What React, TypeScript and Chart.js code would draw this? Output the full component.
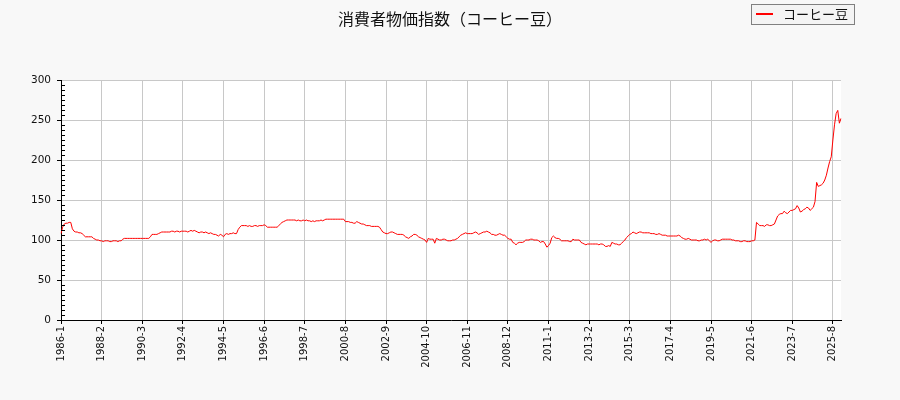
import { useEffect, useRef } from 'react';
import { Chart, registerables } from 'chart.js';

Chart.register(...registerables);

const chartTitle = '消費者物価指数（コーヒー豆）';
const seriesName = 'コーヒー豆';
const firstYear = 1986;
const lastYear = 2026;
const lastMonth = 1;
const labelEvery = 25;
const yMax = 300;
const yStep = 50;

// monthly index, 1986-1 .. 2026-1 (one row per year)
const coffeeBeans = [
    108, 116, 120, 121, 121, 122, 122, 114, 111, 110, 110, 109,
    109, 108, 106, 104, 104, 104, 104, 104, 102, 101, 100, 100,
    99, 99, 98, 99, 99, 99, 98, 98, 99, 99, 99, 98,
    99, 99, 101, 102, 102, 102, 102, 102, 102, 102, 102, 102,
    102, 102, 102, 102, 102, 102, 102, 104, 107, 107, 107, 107,
    108, 109, 110, 110, 110, 110, 110, 110, 111, 111, 110, 111,
    111, 110, 111, 111, 111, 111, 110, 111, 112, 111, 112, 111,
    110, 109, 110, 110, 109, 110, 109, 108, 109, 108, 107, 107,
    106, 105, 107, 106, 104, 107, 108, 107, 108, 108, 109, 108,
    108, 113, 116, 118, 118, 118, 118, 117, 118, 117, 117, 118,
    118, 117, 118, 118, 118, 119, 118, 116, 116, 116, 116, 116,
    116, 116, 118, 120, 122, 123, 124, 125, 125, 125, 125, 125,
    125, 124, 125, 124, 124, 125, 124, 125, 124, 124, 123, 124,
    123, 124, 124, 124, 125, 124, 125, 126, 126, 126, 126, 126,
    126, 126, 126, 126, 126, 126, 126, 123, 123, 123, 122, 122,
    121, 121, 123, 122, 121, 120, 120, 119, 118, 118, 118, 117,
    117, 117, 117, 117, 116, 113, 110, 109, 108, 108, 109, 110,
    110, 109, 108, 107, 107, 107, 107, 106, 104, 103, 102, 104,
    105, 107, 107, 106, 104, 103, 102, 101, 100, 97, 102, 101,
    101, 101, 96, 102, 101, 100, 100, 101, 101, 100, 99, 99,
    99, 100, 100, 101, 102, 104, 106, 107, 108, 109, 108, 108,
    108, 108, 109, 110, 109, 107, 108, 109, 110, 110, 111, 110,
    109, 107, 107, 106, 106, 107, 108, 107, 106, 106, 104, 102,
    101, 101, 97, 96, 94, 96, 97, 97, 97, 98, 100, 100,
    100, 101, 101, 100, 100, 100, 99, 97, 98, 98, 95, 91,
    93, 96, 103, 105, 103, 102, 102, 101, 99, 99, 99, 99,
    99, 98, 98, 101, 100, 100, 100, 100, 97, 96, 95, 94,
    95, 95, 95, 95, 95, 95, 95, 94, 95, 95, 94, 92,
    92, 93, 92, 97, 96, 95, 95, 94, 94, 96, 98, 100,
    103, 105, 107, 108, 110, 109, 108, 109, 110, 110, 109, 109,
    109, 109, 109, 108, 108, 108, 107, 107, 108, 107, 106, 106,
    106, 105, 105, 105, 105, 105, 105, 105, 106, 105, 103, 102,
    101, 101, 102, 101, 100, 100, 100, 100, 99, 99, 100, 100,
    101, 100, 101, 99, 97, 99, 100, 100, 99, 99, 100, 101,
    101, 101, 101, 101, 101, 100, 100, 99, 99, 99, 98, 98,
    99, 99, 98, 98, 98, 99, 99, 100, 122, 120, 118, 118,
    118, 117, 119, 119, 118, 118, 119, 120, 125, 130, 132, 133,
    133, 136, 134, 133, 135, 137, 137, 138, 139, 143, 140, 135,
    136, 138, 139, 141, 140, 137, 139, 141, 148, 172, 167, 168,
    169, 171, 175, 181, 190, 198, 204, 225, 244, 258, 262, 246,
    252,
];

const months: string[] = [];
for (let y = firstYear; y <= lastYear; y++) {
    for (let m = 1; m <= 12; m++) {
        if (y === lastYear && m > lastMonth) break;
        months.push(`${y}-${m}`);
    }
}

const FONT = "'DejaVu Sans', 'Noto Sans CJK JP', sans-serif";
const CJK_FONT = "'Noto Sans CJK JP', 'DejaVu Sans', sans-serif";

// background, title, legend box and the small inner ticks on the y axis
const decorations = {
    id: 'decorations',
    beforeDraw(chart: Chart) {
        const { ctx, chartArea, width, height } = chart;
        ctx.save();
        ctx.fillStyle = '#f8f8f8';
        ctx.fillRect(0, 0, width, height);
        ctx.fillStyle = '#ffffff';
        ctx.fillRect(chartArea.left, chartArea.top, chartArea.right - chartArea.left, chartArea.bottom - chartArea.top);
        ctx.restore();
    },
    afterDraw(chart: Chart) {
        const { ctx, chartArea } = chart;
        const yScale = chart.scales.y;
        ctx.save();

        // minor ticks
        ctx.strokeStyle = '#000';
        ctx.lineWidth = 1;
        const minor = yStep / 8;
        for (let v = minor; v < yMax; v += minor) {
            if (Math.abs(v % yStep) < 0.001) continue;
            const py = Math.round(yScale.getPixelForValue(v)) + 0.5;
            ctx.beginPath();
            ctx.moveTo(chartArea.left, py);
            ctx.lineTo(chartArea.left + 4, py);
            ctx.stroke();
        }

        // title
        ctx.fillStyle = '#111';
        ctx.font = `16px ${CJK_FONT}`;
        ctx.textAlign = 'center';
        ctx.textBaseline = 'middle';
        ctx.fillText(chartTitle, 450, 19);

        // legend
        ctx.fillStyle = '#f4f4f4';
        ctx.fillRect(751.5, 4.5, 103, 20);
        ctx.strokeStyle = '#808080';
        ctx.strokeRect(751.5, 4.5, 103, 20);
        ctx.strokeStyle = '#ff0000';
        ctx.lineWidth = 2;
        ctx.beginPath();
        ctx.moveTo(756, 14);
        ctx.lineTo(773, 14);
        ctx.stroke();
        ctx.fillStyle = '#111';
        ctx.font = `13px ${CJK_FONT}`;
        ctx.textAlign = 'left';
        ctx.fillText(seriesName, 783, 14.5);

        ctx.restore();
    },
};

function CoffeeChart() {
    const chartRef = useRef<HTMLCanvasElement | null>(null);
    const chartInstance = useRef<Chart | null>(null);

    useEffect(() => {
        const ctx = chartRef.current?.getContext('2d');
        if (!ctx) return;
        if (chartInstance.current) chartInstance.current.destroy();

        chartInstance.current = new Chart(ctx, {
            type: 'line',
            data: {
                labels: months,
                datasets: [
                    {
                        label: seriesName,
                        data: coffeeBeans,
                        borderColor: '#ff0000',
                        borderWidth: 1,
                        pointRadius: 0,
                        tension: 0,
                        fill: false,
                    },
                ],
            },
            options: {
                responsive: false,
                animation: false,
                layout: { padding: { top: 80, right: 59, left: 0, bottom: 0 } },
                plugins: {
                    legend: { display: false },
                    title: { display: false },
                    tooltip: { enabled: false },
                },
                scales: {
                    x: {
                        type: 'category',
                        offset: false,
                        afterBuildTicks: (axis: any) => {
                            axis.ticks = axis.ticks.filter((t: any) => t.value % labelEvery === 0);
                        },
                        afterFit: (scale: any) => {
                            scale.height = 80;
                        },
                        grid: { color: '#c8c8c8', tickColor: '#000', tickLength: 4 },
                        border: { color: '#000', width: 1 },
                        ticks: {
                            autoSkip: false,
                            minRotation: 90,
                            maxRotation: 90,
                            padding: 2,
                            color: '#111',
                            font: { family: FONT, size: 10 },
                        },
                    },
                    y: {
                        min: 0,
                        max: yMax,
                        afterFit: (scale: any) => {
                            scale.width = 61;
                        },
                        grid: { color: '#c8c8c8', tickColor: '#000', tickLength: 4 },
                        border: { color: '#000', width: 1 },
                        ticks: {
                            stepSize: yStep,
                            padding: 6,
                            color: '#111',
                            font: { family: FONT, size: 10.5 },
                        },
                    },
                },
            },
            plugins: [decorations],
        });

        return () => {
            if (chartInstance.current) {
                chartInstance.current.destroy();
                chartInstance.current = null;
            }
        };
    }, []);

    return <canvas ref={chartRef} width={900} height={400}></canvas>;
}

export default function App() {
    useEffect(() => {
        document.body.style.margin = '0';
    }, []);
    return (
        <div style={{ width: 900, height: 400 }}>
            <CoffeeChart />
        </div>
    );
}
